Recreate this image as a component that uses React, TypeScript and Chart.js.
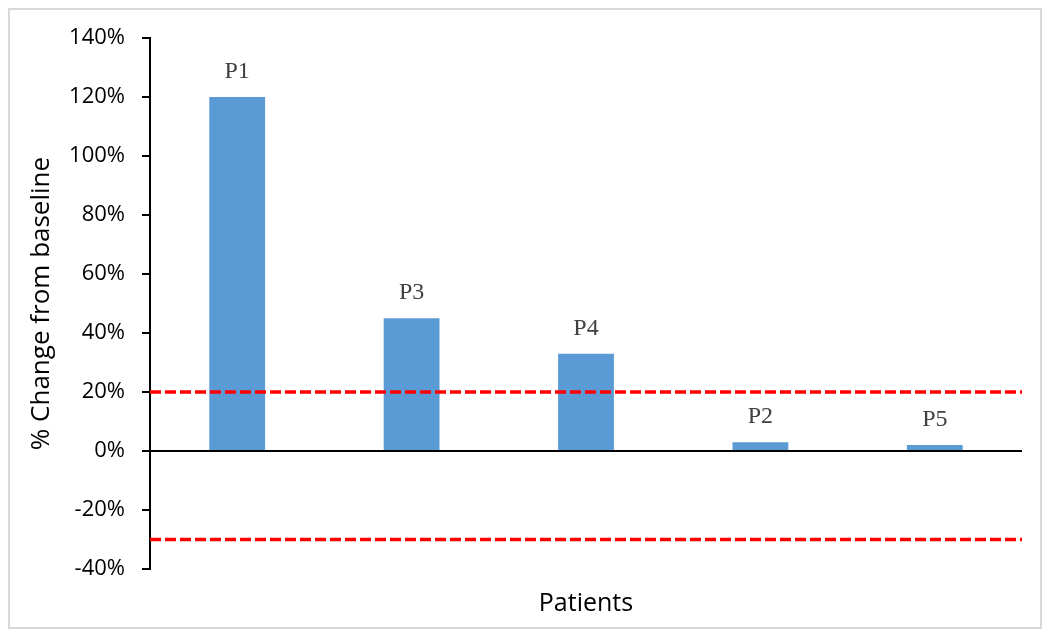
import React, { useEffect, useRef } from "react";
import { Chart, registerables } from "chart.js";

Chart.register(...registerables);

const categories = ["P1", "P3", "P4", "P2", "P5"];
const values = [120, 45, 33, 3, 2];
const thresholds = [20, -30];
const yMin = -40;
const yMax = 140;
const yStep = 20;

const barLabelPlugin = {
  id: "barLabels",
  afterDatasetsDraw(chart: any) {
    const ctx = chart.ctx;
    const meta = chart.getDatasetMeta(0);
    ctx.save();
    ctx.font = '24px "Liberation Serif", "Times New Roman", serif';
    ctx.fillStyle = "#404040";
    ctx.textAlign = "center";
    ctx.textBaseline = "alphabetic";
    meta.data.forEach((bar: any, i: number) => {
      ctx.fillText(categories[i], bar.x, bar.y - 19);
    });
    ctx.restore();
  },
};

const thresholdPlugin = {
  id: "thresholds",
  afterDatasetsDraw(chart: any) {
    const ctx = chart.ctx;
    const area = chart.chartArea;
    const y = chart.scales.y;
    ctx.save();
    ctx.strokeStyle = "#ff0000";
    ctx.lineWidth = 3.5;
    ctx.setLineDash([11, 4]);
    thresholds.forEach((t) => {
      const py = y.getPixelForValue(t);
      ctx.beginPath();
      ctx.moveTo(area.left, py);
      ctx.lineTo(area.right, py);
      ctx.stroke();
    });
    ctx.restore();
  },
};

export default function App() {
  const ref = useRef<HTMLCanvasElement>(null);
  useEffect(() => {
    if (!ref.current) return;
    const chart = new Chart(ref.current, {
      type: "bar",
      data: {
        labels: categories,
        datasets: [
          {
            data: values,
            backgroundColor: "#5b9bd5",
            borderWidth: 0,
            categoryPercentage: 1,
            barPercentage: 0.32,
          },
        ],
      },
      options: {
        responsive: false,
        animation: false,
        layout: { padding: { top: 18, right: 18, left: 0, bottom: 0 } },
        plugins: {
          legend: { display: false },
          tooltip: { enabled: false },
        },
        scales: {
          x: {
            ticks: { display: false },
            grid: { display: false },
            border: { display: false },
            title: {
              display: true,
              text: "Patients",
              color: "#000",
              font: { family: '"Open Sans", sans-serif', size: 25 },
              padding: { top: 0, bottom: 8 },
            },
            afterFit(scale: any) {
              scale.height = 58;
            },
          },
          y: {
            min: yMin,
            max: yMax,
            ticks: {
              stepSize: yStep,
              color: "#000",
              padding: 17,
              font: { family: '"Open Sans", sans-serif', size: 22, lineHeight: 1 },
              callback: (v: any) => v + "%",
            },
            grid: {
              color: (c: any) => (c.tick && c.tick.value === 0 ? "#000" : "rgba(0,0,0,0)"),
              lineWidth: 2,
              tickColor: "#000",
              tickLength: 8,
              tickWidth: 2,
            },
            border: { color: "#000", width: 2 },
            title: {
              display: true,
              text: "% Change from baseline",
              color: "#000",
              font: { family: '"Open Sans", sans-serif', size: 26 },
              padding: { top: 16, bottom: 0 },
            },
            afterFit(scale: any) {
              scale.width = 140;
            },
          },
        },
      },
      plugins: [thresholdPlugin, barLabelPlugin],
    });
    return () => chart.destroy();
  }, []);

  return (
    <div
      style={{
        width: 1034,
        height: 621,
        border: "2px solid #d9d9d9",
        boxSizing: "border-box",
        background: "#fff",
      }}
    >
      <canvas ref={ref} width={1030} height={617} style={{ display: "block" }} />
    </div>
  );
}
